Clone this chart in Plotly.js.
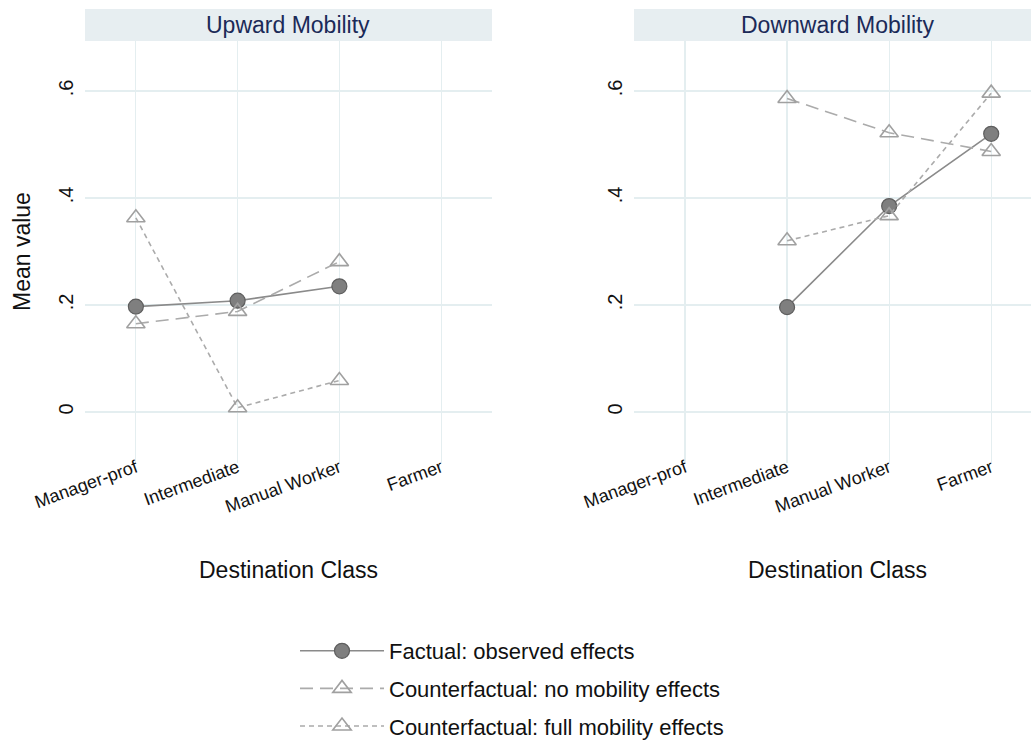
<!DOCTYPE html>
<html>
<head>
<meta charset="utf-8">
<script src="https://cdn.plot.ly/plotly-3.0.1.min.js"></script>
<style>html,body{margin:0;padding:0;background:#fff;}#chart{width:1031px;height:744px;}</style>
</head>
<body>
<div id="chart"></div>
<script>
const categories = ["Manager-prof", "Intermediate", "Manual Worker", "Farmer"];
const tickVals = [0, 0.2, 0.4, 0.6];
const tickText = ["0", ".2", ".4", ".6"];
const seriesNames = ["Factual: observed effects", "Counterfactual: no mobility effects", "Counterfactual: full mobility effects"];

// Upward Mobility panel (categories 1-3)
const upCats = [1, 2, 3];
const upFactual = [0.197, 0.208, 0.235];
const upNoMob = [0.165, 0.188, 0.281];
const upFullMob = [0.363, 0.008, 0.059];

// Downward Mobility panel (categories 2-4)
const downCats = [2, 3, 4];
const downFactual = [0.196, 0.385, 0.520];
const downNoMob = [0.586, 0.522, 0.487];
const downFullMob = [0.320, 0.367, 0.596];

const lineColF = "#8a8a8a";
const lineColC = "#ababab";

function mk(x, y, idx, xa, ya, show) {
  const base = {x: x, y: y, type: "scatter", mode: "lines+markers", name: seriesNames[idx],
    legendgroup: "g" + idx, xaxis: xa, yaxis: ya, showlegend: show, hoverinfo: "skip"};
  if (idx === 0) {
    base.line = {color: lineColF, width: 1.6};
    base.marker = {symbol: "circle", size: 15, color: "#7f7f7f", line: {color: "#5e5e5e", width: 1.2}};
  } else if (idx === 1) {
    base.line = {color: lineColC, width: 1.6, dash: "13px,7px"};
    base.marker = {symbol: "triangle-up-open", size: 16, color: "#a0a0a0", line: {width: 1.6}};
  } else {
    base.line = {color: lineColC, width: 1.6, dash: "5px,4px"};
    base.marker = {symbol: "triangle-up-open", size: 16, color: "#a0a0a0", line: {width: 1.6}};
  }
  return base;
}

const data = [
  mk(upCats, upFactual, 0, "x", "y", true),
  mk(upCats, upNoMob, 1, "x", "y", true),
  mk(upCats, upFullMob, 2, "x", "y", true),
  mk(downCats, downFactual, 0, "x2", "y2", false),
  mk(downCats, downNoMob, 1, "x2", "y2", false),
  mk(downCats, downFullMob, 2, "x2", "y2", false)
];

const W = 1031, H = 744;
const plotTop = 41, plotBot = 463;
const y0px = 412, pxPer = 535; // pixel of value 0, pixels per unit
const yRange = [(y0px - plotBot) / pxPer, (y0px - plotTop) / pxPer];
const fontFam = "Liberation Sans, Arial, Helvetica, sans-serif";
const gridCol = "#e4eef0";
const PH = plotBot - plotTop;

function xax(domain, range) {
  return {domain: domain, range: range, tickvals: [1, 2, 3, 4], ticktext: categories,
    tickangle: -20, showgrid: true, gridcolor: gridCol, gridwidth: 1.2, zeroline: false,
    showline: false, ticks: "", automargin: false, ticklabelstandoff: -10,
    tickfont: {family: fontFam, size: 18, color: "#111"}, fixedrange: true};
}
function yax(anchor) {
  return {domain: [0, 1], range: yRange, tickvals: tickVals, ticktext: tickText, tickangle: -90,
    showgrid: true, gridcolor: gridCol, gridwidth: 1.2, zeroline: false, showline: false,
    ticks: "outside", ticklen: 3, tickcolor: "rgba(0,0,0,0)", anchor: anchor, automargin: false,
    tickfont: {family: fontFam, size: 20, color: "#111"}, fixedrange: true};
}

const d1 = [85 / W, 492 / W];
const d2 = [634 / W, 1];

const layout = {
  width: W, height: H,
  margin: {l: 0, r: 0, t: plotTop, b: H - plotBot, pad: 0, autoexpand: false},
  paper_bgcolor: "#ffffff", plot_bgcolor: "#ffffff",
  font: {family: fontFam, color: "#111"},
  xaxis: xax(d1, [0.5, 4.5]),
  yaxis: yax("x"),
  xaxis2: xax(d2, [0.5, 4.39]),
  yaxis2: yax("x2"),
  shapes: [
    {type: "rect", xref: "paper", yref: "paper", x0: d1[0], x1: d1[1], y0: 1, y1: 1 + 32 / PH,
      fillcolor: "#e7eef1", line: {width: 0}, layer: "below"},
    {type: "rect", xref: "paper", yref: "paper", x0: d2[0], x1: d2[1], y0: 1, y1: 1 + 32 / PH,
      fillcolor: "#e7eef1", line: {width: 0}, layer: "below"}
  ],
  annotations: [
    {text: "Upward Mobility", xref: "paper", yref: "paper", x: (d1[0] + d1[1]) / 2, y: 1 + 16 / PH,
      xanchor: "center", yanchor: "middle", showarrow: false, font: {family: fontFam, size: 23, color: "#1b2a58"}},
    {text: "Downward Mobility", xref: "paper", yref: "paper", x: 838 / W, y: 1 + 16 / PH,
      xanchor: "center", yanchor: "middle", showarrow: false, font: {family: fontFam, size: 23, color: "#1b2a58"}},
    {text: "Destination Class", xref: "paper", yref: "paper", x: 288 / W, y: -(570 - plotBot) / PH,
      xanchor: "center", yanchor: "middle", showarrow: false, font: {family: fontFam, size: 23, color: "#111"}},
    {text: "Destination Class", xref: "paper", yref: "paper", x: 837 / W, y: -(570 - plotBot) / PH,
      xanchor: "center", yanchor: "middle", showarrow: false, font: {family: fontFam, size: 23, color: "#111"}},
    {text: "Mean value", xref: "paper", yref: "paper", x: 22 / W, y: (plotBot - 252) / PH,
      xanchor: "center", yanchor: "middle", textangle: -90, showarrow: false, font: {family: fontFam, size: 23, color: "#111"}}
  ],
  showlegend: true,
  legend: {orientation: "v", xref: "container", yref: "container", x: 295 / W, y: 1 - 630 / H,
    xanchor: "left", yanchor: "top", itemwidth: 84, tracegroupgap: 6, traceorder: "grouped",
    font: {family: fontFam, size: 22, color: "#111"}, bgcolor: "rgba(0,0,0,0)"}
};

Plotly.newPlot("chart", data, layout, {displayModeBar: false, staticPlot: true});
</script>
</body>
</html>
